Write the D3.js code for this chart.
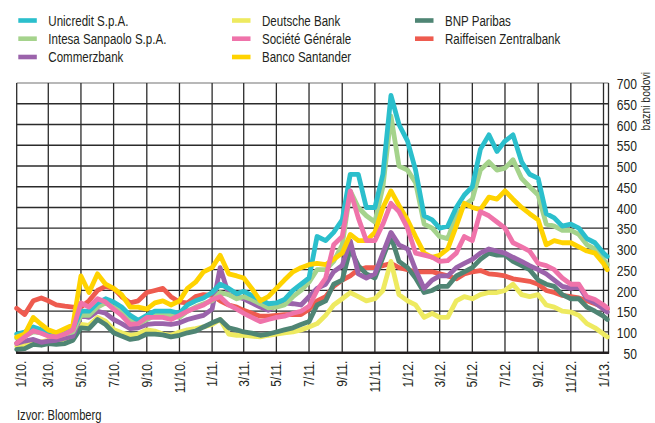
<!DOCTYPE html>
<html>
<head>
<meta charset="utf-8">
<script src="https://cdn.jsdelivr.net/npm/d3@7"></script>
<style>
body { margin: 0; background: #fff; }
svg text { font-family: "Liberation Sans", Arial, sans-serif; fill: #231f20; }
</style>
</head>
<body>
<svg id="chart" width="655" height="423"></svg>
<script>
var svg = d3.select("#chart")

// data (semi-monthly readings, basis points)
var dates = [
  "2010-01-01","2010-01-16","2010-02-01","2010-02-16","2010-03-01","2010-03-16","2010-04-01","2010-04-16",
  "2010-05-01","2010-05-16","2010-06-01","2010-06-16","2010-07-01","2010-07-16","2010-08-01","2010-08-16",
  "2010-09-01","2010-09-16","2010-10-01","2010-10-16","2010-11-01","2010-11-16","2010-12-01","2010-12-16",
  "2011-01-01","2011-01-16","2011-02-01","2011-02-16","2011-03-01","2011-03-16","2011-04-01","2011-04-16",
  "2011-05-01","2011-05-16","2011-06-01","2011-06-16","2011-07-01","2011-07-16","2011-08-01","2011-08-16",
  "2011-09-01","2011-09-16","2011-10-01","2011-10-16","2011-11-01","2011-11-16","2011-12-01","2011-12-16",
  "2012-01-01","2012-01-16","2012-02-01","2012-02-16","2012-03-01","2012-03-16","2012-04-01","2012-04-16",
  "2012-05-01","2012-05-16","2012-06-01","2012-06-16","2012-07-01","2012-07-16","2012-08-01","2012-08-16",
  "2012-09-01","2012-09-16","2012-10-01","2012-10-16","2012-11-01","2012-11-16","2012-12-01","2012-12-16",
  "2013-01-01","2013-01-08"]

var unicredit = [95,100,112,105,100,95,100,108,150,150,170,180,172,160,140,128,140,150,150,150,145,165,175,182,
  195,215,205,192,198,188,178,168,170,178,200,215,230,330,320,340,370,480,480,400,400,480,670,600,
  560,490,380,370,350,355,400,430,450,540,575,535,560,575,510,480,470,385,375,355,360,350,325,315,
  290,282]
var intesa = [85,90,100,98,92,90,95,100,140,140,160,170,160,150,130,120,130,140,140,140,135,150,160,168,
  175,195,190,180,185,178,168,158,160,165,185,200,220,250,250,270,310,440,400,380,365,450,620,500,
  490,460,360,350,330,325,380,405,420,490,510,490,495,515,470,450,430,360,355,345,345,335,310,300,
  275,262]
var commerzbank = [72,78,82,75,78,80,85,90,140,135,150,145,130,120,108,110,118,120,120,118,122,130,135,140,
  155,255,190,185,180,170,160,152,165,170,168,165,185,205,215,245,260,320,240,230,240,290,340,310,
  300,250,205,225,235,235,255,265,275,290,300,295,290,280,270,260,250,240,225,210,205,210,180,170,
  155,148]
var deutsche = [66,68,78,76,80,78,80,88,118,116,135,126,106,98,92,95,105,102,95,92,100,105,108,112,
  118,130,95,92,92,90,88,92,95,98,100,105,112,120,140,165,180,195,185,175,180,200,270,190,
  175,165,135,145,135,135,175,185,180,190,195,195,200,215,190,185,190,165,160,150,148,140,120,110,
  95,88]
var socgen = [73,88,103,97,90,88,95,105,170,160,180,172,155,140,118,120,135,135,135,130,140,150,158,165,
  178,185,165,155,145,135,125,130,135,138,145,150,162,200,230,310,330,440,375,320,320,360,410,390,
  350,290,285,280,270,272,290,330,320,390,380,365,350,315,305,295,265,260,250,230,215,215,185,178,
  165,158]
var santander = [88,95,135,118,105,98,108,117,235,195,240,215,205,190,160,160,155,170,175,165,175,205,220,245,
  255,285,240,235,230,205,175,185,205,225,245,255,262,265,262,275,290,335,320,320,340,400,440,405,
  370,330,290,280,285,300,355,410,400,395,425,420,440,420,400,385,370,310,320,315,315,305,295,290,
  265,250]
var bnp = [58,60,70,68,72,70,72,80,110,108,130,118,98,90,82,85,95,95,93,88,92,98,102,112,
  122,130,110,105,100,97,92,95,100,105,110,118,125,165,175,215,225,300,260,240,230,280,330,270,
  255,230,195,200,210,210,235,245,255,275,290,285,285,270,260,250,225,215,210,190,180,180,160,150,
  138,130]
var raiffeisen = [157,142,175,182,175,165,162,160,160,175,200,210,205,185,170,175,195,200,205,185,172,170,185,190,
  188,175,165,160,152,145,138,138,140,142,142,142,155,175,185,210,225,235,250,255,255,260,265,255,
  250,245,245,245,240,235,228,240,245,248,240,238,235,228,225,222,215,200,195,188,185,182,175,168,
  160,155]

var names = ["Unicredit S.p.A.", "Intesa Sanpaolo S.p.A.", "Commerzbank", "Deutsche Bank",
  "Société Générale", "Banco Santander", "BNP Paribas", "Raiffeisen Zentralbank"]
var colors = ["#2bbfcc", "#a5d38c", "#9b63ab", "#eeea60", "#ef73aa", "#ffd300", "#4f8574", "#ee5b4f"]
var values = [unicredit, intesa, commerzbank, deutsche, socgen, santander, bnp, raiffeisen]
// which series sit on top of which
var drawOrder = [7, 3, 6, 2, 1, 0, 5, 4]

var yTicks = [50,100,150,200,250,300,350,400,450,500,550,600,650,700]
var xTickDates = ["2010-01-01","2010-03-01","2010-05-01","2010-07-01","2010-09-01","2010-11-01",
  "2011-01-01","2011-03-01","2011-05-01","2011-07-01","2011-09-01","2011-11-01",
  "2012-01-01","2012-03-01","2012-05-01","2012-07-01","2012-09-01","2012-11-01","2013-01-01"]
var xTickLabels = ["1/10.","3/10.","5/10.","7/10.","9/10.","11/10.","1/11.","3/11.","5/11.","7/11.",
  "9/11.","11/11.","1/12.","3/12.","5/12.","7/12.","9/12.","11/12.","1/13."]

var plotLeft = 16.7, plotRight = 608.5, plotTop = 83, plotBottom = 352.7
var squeeze = 0.78   // narrow type, like the condensed face of the original
var parse = d3.utcParse("%Y-%m-%d")
var x = d3.scaleUtc().domain([parse("2010-01-01"), parse("2013-01-01")]).range([plotLeft, 603.5])
var y = d3.scaleLinear().domain([50, 700]).range([plotBottom, plotTop])

// grid
var grid = svg.append("g")
grid.selectAll("hline").data(yTicks).enter().append("line")
    .attr("x1", plotLeft).attr("x2", plotRight)
    .attr("y1", d => y(d)).attr("y2", d => y(d))
    .attr("stroke", d => d == 700 ? "#a0a0a0" : "#2b2b2b")
    .attr("stroke-width", 1.3)
grid.selectAll("vline").data(xTickDates).enter().append("line")
    .attr("x1", d => x(parse(d))).attr("x2", d => x(parse(d)))
    .attr("y1", plotTop).attr("y2", plotBottom)
    .attr("stroke", "#2b2b2b").attr("stroke-width", 1.3)
grid.append("line").attr("x1", plotRight).attr("x2", plotRight).attr("y1", plotTop).attr("y2", plotBottom)
    .attr("stroke", "#2b2b2b").attr("stroke-width", 1.3)

// lines
var line = d3.line().x((d, i) => x(parse(dates[i]))).y(d => y(d))
svg.append("g").selectAll("path")
    .data(drawOrder)
    .enter().append("path")
    .attr("d", k => line(values[k]))
    .attr("fill", "none")
    .attr("stroke", k => colors[k])
    .attr("stroke-width", 4.8)
    .attr("stroke-linejoin", "round")
    .attr("stroke-linecap", "round")

// bottom axis line
svg.append("line").attr("x1", plotLeft - 0.6).attr("x2", plotRight + 0.6)
    .attr("y1", plotBottom).attr("y2", plotBottom)
    .attr("stroke", "#231f20").attr("stroke-width", 2.4)

// y axis on the right
var yAxis = svg.append("g").attr("transform", "translate(637,0)")
    .call(d3.axisRight(y).tickValues(yTicks).tickSize(0).tickPadding(0))
yAxis.select(".domain").remove()
yAxis.selectAll("text").attr("text-anchor", "end").attr("x", 0).attr("dy", "0.36em")
    .attr("transform", "scale(" + squeeze + ",1)")
    .style("font-size", "15.5px")

// x axis labels
var xAxis = svg.append("g").attr("transform", "translate(0," + plotBottom + ")")
    .call(d3.axisBottom(x).tickValues(xTickDates.map(parse)).tickSize(0)
        .tickFormat((d, i) => xTickLabels[i]))
xAxis.select(".domain").remove()
xAxis.selectAll("text")
    .attr("transform", (d, i) => (i == 0 ? "translate(4,0) " : "") + "rotate(-90) scale(" + squeeze + ",1)")
    .attr("text-anchor", "end")
    .attr("x", -8 / squeeze).attr("y", -1).attr("dy", "0.36em")
    .style("font-size", "15.5px")

svg.append("text").attr("transform", "translate(650,72) rotate(-90) scale(0.8,1)")
    .attr("text-anchor", "end").style("font-size", "13px").text("bazni bodovi")

svg.append("text").attr("transform", "translate(17,420) scale(0.8,1)")
    .style("font-size", "14px").text("Izvor: Bloomberg")

// legend
var legendCols = [18.3, 232, 415], legendRows = [20.5, 38.7, 57]
var legendSlots = [[0,0],[0,1],[0,2],[1,0],[1,1],[1,2],[2,0],[2,1]]
var legend = svg.append("g").selectAll("g").data(names).enter().append("g")
    .attr("transform", (d, i) => "translate(" + legendCols[legendSlots[i][0]] + "," + legendRows[legendSlots[i][1]] + ")")
legend.append("rect").attr("x", 0).attr("y", -2.3).attr("width", 18.5).attr("height", 4.6)
    .attr("fill", (d, i) => colors[i])
legend.append("text").attr("transform", "translate(30,5) scale(0.77,1)")
    .style("font-size", "15px").text(d => d)
</script>
</body>
</html>
